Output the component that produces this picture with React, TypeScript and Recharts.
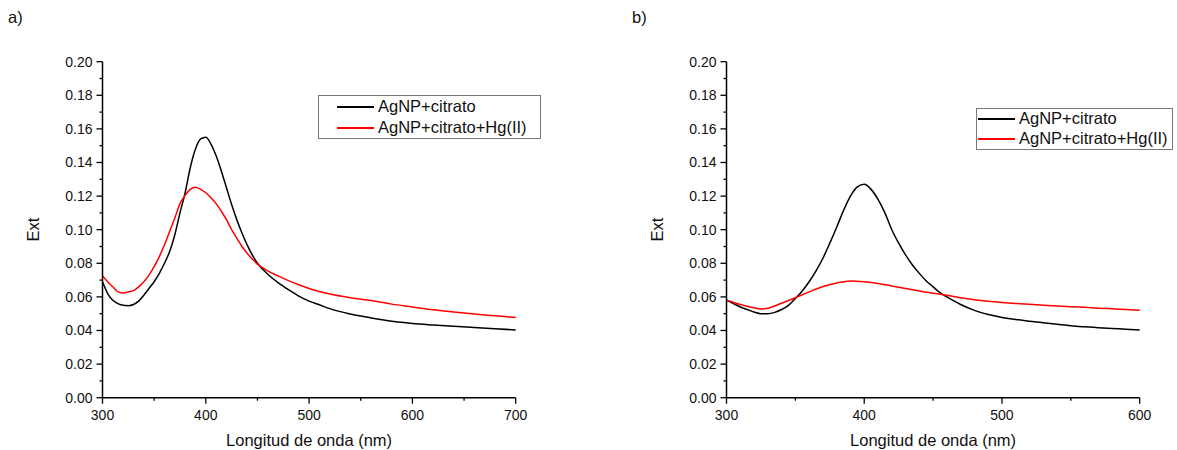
import { Label, Legend, Line, LineChart, XAxis, YAxis } from 'recharts'

// a) AgNP+citrato vs AgNP+citrato+Hg(II), 300-700 nm
const wavelengthsA = [
  300, 305, 310, 315, 320, 325, 330, 335, 340, 345, 350, 355, 360, 365, 370, 375, 380, 385, 390, 395,
  400, 405, 410, 415, 420, 425, 430, 435, 440, 445, 450, 460, 470, 480, 490, 500, 510, 520, 540, 560,
  580, 600, 620, 640, 660, 680, 700,
]
const citratoA = [
  0.069, 0.062, 0.058, 0.056, 0.055, 0.0548, 0.0555, 0.0575, 0.061, 0.065, 0.069, 0.074, 0.08, 0.087,
  0.097, 0.11, 0.122, 0.137, 0.148, 0.154, 0.155, 0.151, 0.144, 0.135, 0.125, 0.115, 0.106, 0.098,
  0.091, 0.085, 0.08, 0.0735, 0.0685, 0.0643, 0.0605, 0.0575, 0.0553, 0.053, 0.0498, 0.0475, 0.0455,
  0.0442, 0.0433, 0.0425, 0.0418, 0.0411, 0.0403,
]
const citratoHgA = [
  0.0724, 0.069, 0.066, 0.063, 0.0623, 0.063, 0.0637, 0.066, 0.069, 0.073, 0.078, 0.084, 0.091, 0.099,
  0.107, 0.1155, 0.1205, 0.124, 0.1252, 0.124, 0.122, 0.119, 0.1155, 0.111, 0.106, 0.1, 0.095, 0.09,
  0.086, 0.0825, 0.0795, 0.0755, 0.0725, 0.0697, 0.0672, 0.065, 0.0632, 0.0617, 0.0595, 0.0578, 0.0557,
  0.054, 0.0523, 0.051, 0.0498, 0.0488, 0.0478,
]

// b) same samples, 300-600 nm
const wavelengthsB = [
  300, 305, 310, 315, 320, 325, 330, 335, 340, 345, 350, 355, 360, 365, 370, 375, 380, 385, 390, 395,
  400, 405, 410, 415, 420, 425, 430, 435, 440, 445, 450, 455, 460, 470, 480, 490, 500, 510, 520, 530,
  540, 550, 560, 570, 580, 590, 600,
]
const citratoB = [
  0.058, 0.056, 0.054, 0.0525, 0.051, 0.05, 0.05, 0.0508, 0.0525, 0.055, 0.059, 0.0635, 0.069, 0.0755,
  0.083, 0.092, 0.1015, 0.1115, 0.12, 0.1255, 0.127, 0.124, 0.118, 0.11, 0.1, 0.092, 0.085, 0.079,
  0.074, 0.0695, 0.066, 0.0625, 0.06, 0.0555, 0.052, 0.0495, 0.0478, 0.0465, 0.0455, 0.0446, 0.0437,
  0.0428, 0.0422, 0.0417, 0.0412, 0.0408, 0.0403,
]
const wavelengthsBHg = [
  300, 310, 320, 325, 330, 340, 350, 360, 370, 380, 390, 400, 410, 420, 430, 440, 450, 460, 470,
  480, 490, 500, 510, 520, 530, 540, 550, 560, 570, 580, 590, 600,
]
const citratoHgB = [
  0.058, 0.0555, 0.0535, 0.0528, 0.0533, 0.0562, 0.0595, 0.063, 0.0662, 0.0683, 0.0695, 0.069,
  0.068, 0.0665, 0.065, 0.0635, 0.0622, 0.061, 0.0595, 0.0583, 0.0574, 0.0567, 0.0561, 0.0556,
  0.0551, 0.0546, 0.0542, 0.0538, 0.0533, 0.0529, 0.0525, 0.052,
]

const yTicks = [
  0, 0.01, 0.02, 0.03, 0.04, 0.05, 0.06, 0.07, 0.08, 0.09, 0.1, 0.11, 0.12, 0.13, 0.14, 0.15, 0.16, 0.17,
  0.18, 0.19, 0.2,
]
const xTicksA = [300, 350, 400, 450, 500, 550, 600, 650, 700]
const xTicksB = [300, 350, 400, 450, 500, 550, 600]

const seriesNames = ['AgNP+citrato', 'AgNP+citrato+Hg(II)']
const seriesColors = ['#000000', '#ff0000']

const FONT = '"Liberation Sans", Arial, sans-serif'
const TICK = 6
const TICK_MARGIN = 4

function toPoints(xs: number[], ys: number[]) {
  return xs.map((x, i) => ({ x, y: ys[i] }))
}

function YTick(props: any) {
  const { x, y, payload, index } = props
  const major = index % 2 === 0
  const axisX = x + TICK + TICK_MARGIN
  return (
    <g>
      <line x1={axisX} x2={axisX - (major ? TICK : 3)} y1={y} y2={y} stroke="#000" strokeWidth={1.3} />
      {major && (
        <text x={x} y={y} dy="0.355em" textAnchor="end" fontSize={14} fill="#111" fontFamily={FONT}>
          {payload.value.toFixed(2)}
        </text>
      )}
    </g>
  )
}

function XTick(props: any) {
  const { x, y, payload } = props
  const major = payload.value % 100 === 0
  const axisY = y - TICK - 6
  return (
    <g>
      <line x1={x} x2={x} y1={axisY} y2={axisY + (major ? TICK : 3)} stroke="#000" strokeWidth={1.3} />
      {major && (
        <text x={x} y={y} dy="0.71em" textAnchor="middle" fontSize={14} fill="#111" fontFamily={FONT}>
          {payload.value}
        </text>
      )}
    </g>
  )
}

interface LegendBoxProps {
  width: number
  height: number
  padLeft: number
}

function LegendBox({ width, height, padLeft }: LegendBoxProps) {
  return (
    <div
      style={{
        width,
        height,
        boxSizing: 'border-box',
        border: '1px solid #777',
        background: '#fff',
        paddingLeft: padLeft,
        display: 'flex',
        flexDirection: 'column',
        justifyContent: 'center',
        fontFamily: FONT,
        fontSize: 16.5,
        color: '#111',
      }}
    >
      {seriesNames.map((name, i) => (
        <div key={name} style={{ display: 'flex', alignItems: 'center', height: 21.4, whiteSpace: 'nowrap' }}>
          <span style={{ display: 'inline-block', width: 37, height: 0, borderTop: `2px solid ${seriesColors[i]}`, marginRight: 4 }} />
          {name}
        </div>
      ))}
    </div>
  )
}

interface PanelProps {
  left: number
  xMax: number
  xTicks: number[]
  black: Array<{ x: number; y: number }>
  red: Array<{ x: number; y: number }>
  legend: { left: number; top: number; width: number; height: number; padLeft: number }
}

function Panel({ left, xMax, xTicks, black, red, legend }: PanelProps) {
  return (
    <div style={{ position: 'absolute', left, top: 0 }}>
      <LineChart width={600} height={450} margin={{ top: 61.7, right: 84.3, left: -36.5, bottom: 0 }}>
        <XAxis
          type="number"
          dataKey="x"
          domain={[300, xMax]}
          ticks={xTicks}
          interval={0}
          height={52.3}
          tickSize={TICK}
          tickMargin={6}
          tickLine={false}
          tick={<XTick />}
          axisLine={{ stroke: '#000', strokeWidth: 1.5 }}
        >
          <Label
            value="Longitud de onda (nm)"
            position="insideBottom"
            offset={4.3}
            style={{ fontSize: 16.5, fontFamily: FONT, fill: '#111' }}
          />
        </XAxis>
        <YAxis
          type="number"
          domain={[0, 0.2]}
          ticks={yTicks}
          interval={0}
          width={139}
          tickSize={TICK}
          tickMargin={TICK_MARGIN}
          tickLine={false}
          tick={<YTick />}
          axisLine={{ stroke: '#000', strokeWidth: 1.5 }}
        >
          <Label
            value="Ext"
            angle={-90}
            position="center"
            style={{ fontSize: 16.5, fontFamily: FONT, fill: '#111' }}
          />
        </YAxis>
        <Legend
          layout="vertical"
          align="center"
          verticalAlign="middle"
          wrapperStyle={{ left: legend.left, top: legend.top, width: legend.width }}
          content={() => <LegendBox width={legend.width} height={legend.height} padLeft={legend.padLeft} />}
        />
        <Line
          data={black}
          dataKey="y"
          name={seriesNames[0]}
          type="monotone"
          stroke={seriesColors[0]}
          strokeWidth={1.5}
          dot={false}
          isAnimationActive={false}
        />
        <Line
          data={red}
          dataKey="y"
          name={seriesNames[1]}
          type="monotone"
          stroke={seriesColors[1]}
          strokeWidth={1.5}
          dot={false}
          isAnimationActive={false}
        />
      </LineChart>
    </div>
  )
}

export default function App() {
  return (
    <div style={{ position: 'absolute', left: 0, top: 0, width: 1177, height: 450, background: '#fff', fontFamily: FONT }}>
      <div style={{ position: 'absolute', left: 8, top: 8, fontSize: 16.5, color: '#111' }}>a)</div>
      <div style={{ position: 'absolute', left: 632, top: 8, fontSize: 16.5, color: '#111' }}>b)</div>
      <Panel
        left={0}
        xMax={700}
        xTicks={xTicksA}
        black={toPoints(wavelengthsA, citratoA)}
        red={toPoints(wavelengthsA, citratoHgA)}
        legend={{ left: 318, top: 95, width: 223, height: 44, padLeft: 18 }}
      />
      <Panel
        left={623.5}
        xMax={600}
        xTicks={xTicksB}
        black={toPoints(wavelengthsB, citratoB)}
        red={toPoints(wavelengthsBHg, citratoHgB)}
        legend={{ left: 352.5, top: 107.7, width: 197, height: 42, padLeft: 1 }}
      />
    </div>
  )
}
